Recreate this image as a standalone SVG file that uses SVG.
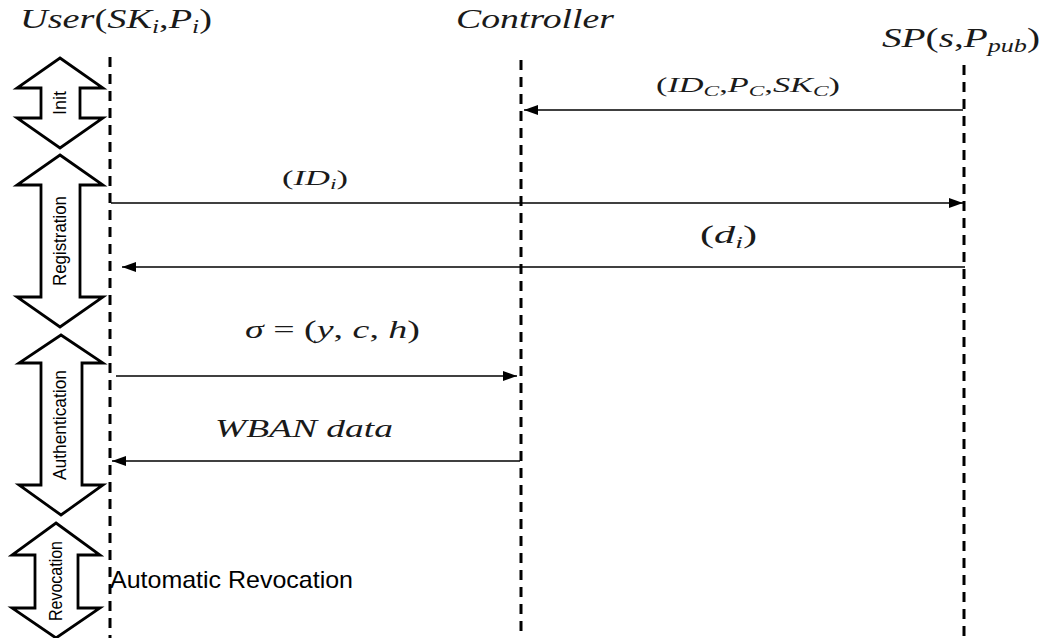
<svg xmlns="http://www.w3.org/2000/svg" width="1052" height="638" viewBox="0 0 1052 638">
<style>
.life{stroke:#000;stroke-width:3;stroke-dasharray:10 7;fill:none}
.msg{stroke:#000;stroke-width:1.5;fill:none}
.blk{fill:#fff;stroke:#000;stroke-width:2.8;stroke-linejoin:miter}
.m{font-family:"Liberation Serif","DejaVu Serif",serif;font-style:italic;fill:#1a1a1a}
.u{font-style:normal}
.lab{font-family:"Liberation Sans","DejaVu Sans",sans-serif;font-size:19px;fill:#000}
.auto{font-family:"Liberation Sans","DejaVu Sans",sans-serif;font-size:24px;fill:#000}
</style>
<defs>
<marker id="ah" markerWidth="14" markerHeight="10" refX="14" refY="5" orient="auto" markerUnits="userSpaceOnUse">
<path d="M0,0 L14,5 L0,10 Z" fill="#000"/>
</marker>
</defs>
<rect width="1052" height="638" fill="#fff"/>

<g id="user">
<line class="life" x1="110" y1="57" x2="110" y2="638"/>
<text class="m" x="20" y="28" font-size="27" textLength="192" lengthAdjust="spacingAndGlyphs">User<tspan class="u">(</tspan>SK<tspan font-size="18" dy="5">i</tspan><tspan class="u" dy="-5">,</tspan>P<tspan font-size="18" dy="5">i</tspan><tspan class="u" dy="-5">)</tspan></text>
</g>
<g id="controller">
<line class="life" x1="521" y1="60" x2="521" y2="638"/>
<text class="m" x="456" y="28" font-size="27" textLength="158" lengthAdjust="spacingAndGlyphs">Controller</text>
</g>
<g id="sp">
<line class="life" x1="964" y1="65" x2="964" y2="638"/>
<text class="m" x="882" y="47" font-size="27" textLength="158" lengthAdjust="spacingAndGlyphs">SP<tspan class="u">(</tspan>s<tspan class="u">,</tspan>P<tspan font-size="18" dy="5">pub</tspan><tspan class="u" dy="-5">)</tspan></text>
</g>

<g id="phase-init">
<path class="blk" d="M60,58 L103,88 L80,88 L80,118 L103,118 L60,148 L17,118 L41,118 L41,88 L17,88 Z"/>
<text class="lab" transform="translate(66,103) rotate(-90)" text-anchor="middle" textLength="24" lengthAdjust="spacingAndGlyphs">Init</text>
</g>
<g id="phase-registration">
<path class="blk" d="M60,155 L103,185 L80,185 L80,297 L103,297 L60,327 L17,297 L41,297 L41,185 L17,185 Z"/>
<text class="lab" transform="translate(66,241) rotate(-90)" text-anchor="middle" textLength="90" lengthAdjust="spacingAndGlyphs">Registration</text>
</g>
<g id="phase-authentication">
<path class="blk" d="M61,335 L103,363 L82,363 L82,485 L103,485 L61,515 L19,485 L41,485 L41,363 L19,363 Z"/>
<text class="lab" transform="translate(66,425) rotate(-90)" text-anchor="middle" textLength="110" lengthAdjust="spacingAndGlyphs">Authentication</text>
</g>
<g id="phase-revocation">
<path class="blk" d="M56,523 L100,555 L78,555 L78,608 L100,608 L56,638 L12,608 L35,608 L35,555 L12,555 Z"/>
<text class="lab" transform="translate(62,581) rotate(-90)" text-anchor="middle" textLength="80" lengthAdjust="spacingAndGlyphs">Revocation</text>
</g>
<text class="auto" x="110" y="588" textLength="243" lengthAdjust="spacingAndGlyphs">Automatic Revocation</text>

<g id="connectors">
<line class="msg" x1="963" y1="110" x2="524" y2="110" marker-end="url(#ah)"/>
<line class="msg" x1="111" y1="203" x2="963" y2="203" marker-end="url(#ah)"/>
<line class="msg" x1="965" y1="267" x2="122" y2="267" marker-end="url(#ah)"/>
<line class="msg" x1="116" y1="376" x2="517" y2="376" marker-end="url(#ah)"/>
<line class="msg" x1="520" y1="461" x2="112" y2="461" marker-end="url(#ah)"/>
</g>

<g id="labels">
<text class="m" x="656" y="92" font-size="22" textLength="184" lengthAdjust="spacingAndGlyphs"><tspan class="u">(</tspan>ID<tspan font-size="15" dy="4">C</tspan><tspan class="u" dy="-4">,</tspan>P<tspan font-size="15" dy="4">C</tspan><tspan class="u" dy="-4">,</tspan>SK<tspan font-size="15" dy="4">C</tspan><tspan class="u" dy="-4">)</tspan></text>
<text class="m" x="282" y="185" font-size="22" textLength="66" lengthAdjust="spacingAndGlyphs"><tspan class="u">(</tspan>ID<tspan font-size="15" dy="4">i</tspan><tspan class="u" dy="-4">)</tspan></text>
<text class="m" x="700" y="243" font-size="26" textLength="57" lengthAdjust="spacingAndGlyphs"><tspan class="u">(</tspan>d<tspan font-size="17" dy="5">i</tspan><tspan class="u" dy="-5">)</tspan></text>
<text class="m" x="245" y="338" font-size="26" textLength="175" lengthAdjust="spacingAndGlyphs">σ <tspan class="u">= (</tspan>y<tspan class="u">, </tspan>c<tspan class="u">, </tspan>h<tspan class="u">)</tspan></text>
<text class="m" x="215" y="437" font-size="26" textLength="178" lengthAdjust="spacingAndGlyphs">WBAN data</text>
</g>
</svg>
